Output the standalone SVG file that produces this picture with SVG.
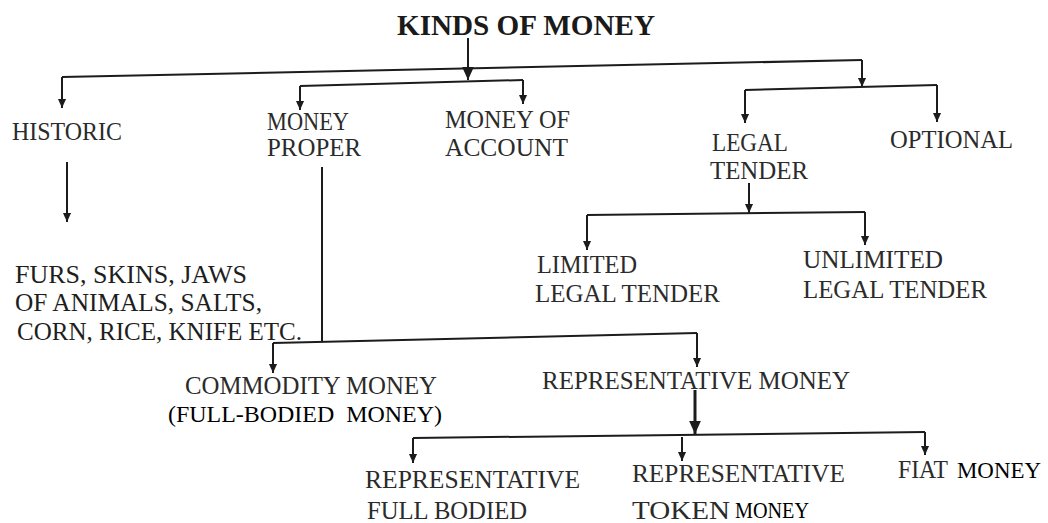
<svg xmlns="http://www.w3.org/2000/svg" width="1048" height="523" viewBox="0 0 1048 523">
<style>
.t{font-family:"Liberation Serif","Times New Roman",serif;font-size:26px;fill:#2b2b2b;}
.b{font-family:"Liberation Serif","Times New Roman",serif;font-size:30px;font-weight:bold;fill:#1a1a1a;}
.d{font-family:"Liberation Serif","Times New Roman",serif;font-size:26px;fill:#1e1e1e;}
.c{font-family:"Liberation Serif","Times New Roman",serif;font-size:24px;fill:#000;white-space:pre;}
.ln{fill:none;stroke:#1c1c1c;stroke-width:2;}
.th{fill:none;stroke:#1c1c1c;stroke-width:3;}
</style>
<defs>
<marker id="ah" viewBox="0 0 10 10" refX="10" refY="5" markerWidth="10" markerHeight="9" markerUnits="userSpaceOnUse" orient="auto">
<path d="M0,0.5 L10,5 L0,9.5 z" fill="#1c1c1c"/>
</marker>
<marker id="ahb" viewBox="0 0 10 10" refX="10" refY="5" markerWidth="13" markerHeight="13" markerUnits="userSpaceOnUse" orient="auto">
<path d="M0,0.5 L10,5 L0,9.5 z" fill="#1c1c1c"/>
</marker>
</defs>
<rect width="1048" height="523" fill="#fff"/>
<g id="connectors">
<path class="ln" d="M468,38 L468,80" marker-end="url(#ahb)"/>
<path class="ln" d="M62,77 L862,60"/>
<path class="ln" d="M62,77 L62,108" marker-end="url(#ah)"/>
<path class="ln" d="M862,60 L862,87" marker-end="url(#ah)"/>
<path class="ln" d="M300,86 L523,80"/>
<path class="ln" d="M300,86 L300,110" marker-end="url(#ah)"/>
<path class="ln" d="M523,80 L523,104" marker-end="url(#ah)"/>
<path class="ln" d="M745,90 L937,85"/>
<path class="ln" d="M745,90 L745,123" marker-end="url(#ah)"/>
<path class="ln" d="M937,85 L937,122" marker-end="url(#ah)"/>
<path class="ln" d="M67,162 L67,222" marker-end="url(#ah)"/>
<path class="ln" d="M322,167 L322,342"/>
<path class="ln" d="M273,343 L697,333"/>
<path class="ln" d="M273,343 L273,373" marker-end="url(#ah)"/>
<path class="ln" d="M697,333 L697,367" marker-end="url(#ah)"/>
<path class="ln" d="M749,183 L749,213" marker-end="url(#ah)"/>
<path class="ln" d="M587,215 L865,212"/>
<path class="ln" d="M587,215 L587,250" marker-end="url(#ah)"/>
<path class="ln" d="M865,212 L865,245" marker-end="url(#ah)"/>
<path class="th" d="M695,390 L695,434" marker-end="url(#ahb)"/>
<path class="ln" d="M413,438 L925,432"/>
<path class="ln" d="M413,438 L413,463" marker-end="url(#ah)"/>
<path class="ln" d="M682,437 L682,461" marker-end="url(#ah)"/>
<path class="ln" d="M925,432 L925,455" marker-end="url(#ah)"/>
</g>
<g id="kinds-of-money"><text class="b" x="397" y="35" textLength="258" lengthAdjust="spacingAndGlyphs">KINDS OF MONEY</text></g>
<g id="historic"><text class="t" x="12" y="140" textLength="110" lengthAdjust="spacingAndGlyphs">HISTORIC</text></g>
<g id="money-proper">
<text class="t" x="267" y="130" textLength="82" lengthAdjust="spacingAndGlyphs">MONEY</text>
<text class="t" x="267" y="156" textLength="94" lengthAdjust="spacingAndGlyphs">PROPER</text>
</g>
<g id="money-of-account">
<text class="t" x="445" y="128" textLength="125" lengthAdjust="spacingAndGlyphs">MONEY OF</text>
<text class="t" x="445" y="156" textLength="123" lengthAdjust="spacingAndGlyphs">ACCOUNT</text>
</g>
<g id="legal-tender">
<text class="t" x="712" y="151" textLength="76" lengthAdjust="spacingAndGlyphs">LEGAL</text>
<text class="t" x="710" y="179" textLength="98" lengthAdjust="spacingAndGlyphs">TENDER</text>
</g>
<g id="optional"><text class="t" x="890" y="148" textLength="123" lengthAdjust="spacingAndGlyphs">OPTIONAL</text></g>
<g id="historic-items">
<text class="d" x="15" y="283" textLength="232" lengthAdjust="spacingAndGlyphs">FURS, SKINS, JAWS</text>
<text class="d" x="15" y="311" textLength="247" lengthAdjust="spacingAndGlyphs">OF ANIMALS, SALTS,</text>
<text class="d" x="17" y="340" textLength="285" lengthAdjust="spacingAndGlyphs">CORN, RICE, KNIFE ETC.</text>
</g>
<g id="limited-legal-tender">
<text class="t" x="537" y="273" textLength="100" lengthAdjust="spacingAndGlyphs">LIMITED</text>
<text class="t" x="535" y="302" textLength="185" lengthAdjust="spacingAndGlyphs">LEGAL TENDER</text>
</g>
<g id="unlimited-legal-tender">
<text class="t" x="803" y="268" textLength="140" lengthAdjust="spacingAndGlyphs">UNLIMITED</text>
<text class="t" x="803" y="298" textLength="184" lengthAdjust="spacingAndGlyphs">LEGAL TENDER</text>
</g>
<g id="commodity-money">
<text class="t" x="185" y="394" textLength="252" lengthAdjust="spacingAndGlyphs">COMMODITY MONEY</text>
<text class="c" x="168" y="422" textLength="274" lengthAdjust="spacingAndGlyphs" xml:space="preserve">(FULL-BODIED  MONEY)</text>
</g>
<g id="representative-money"><text class="t" x="542" y="389" textLength="308" lengthAdjust="spacingAndGlyphs">REPRESENTATIVE MONEY</text></g>
<g id="representative-full-bodied">
<text class="t" x="365" y="488" textLength="215" lengthAdjust="spacingAndGlyphs">REPRESENTATIVE</text>
<text class="t" x="367" y="519" textLength="160" lengthAdjust="spacingAndGlyphs">FULL BODIED</text>
</g>
<g id="representative-token-money">
<text class="t" x="632" y="482" textLength="213" lengthAdjust="spacingAndGlyphs">REPRESENTATIVE</text>
<text class="t" x="632" y="519" textLength="98" lengthAdjust="spacingAndGlyphs">TOKEN</text>
<text class="c" x="735" y="518" textLength="74" lengthAdjust="spacingAndGlyphs">MONEY</text>
</g>
<g id="fiat-money">
<text class="t" x="898" y="478" textLength="50" lengthAdjust="spacingAndGlyphs">FIAT</text>
<text class="c" x="957" y="478" textLength="84" lengthAdjust="spacingAndGlyphs">MONEY</text>
</g>
</svg>
